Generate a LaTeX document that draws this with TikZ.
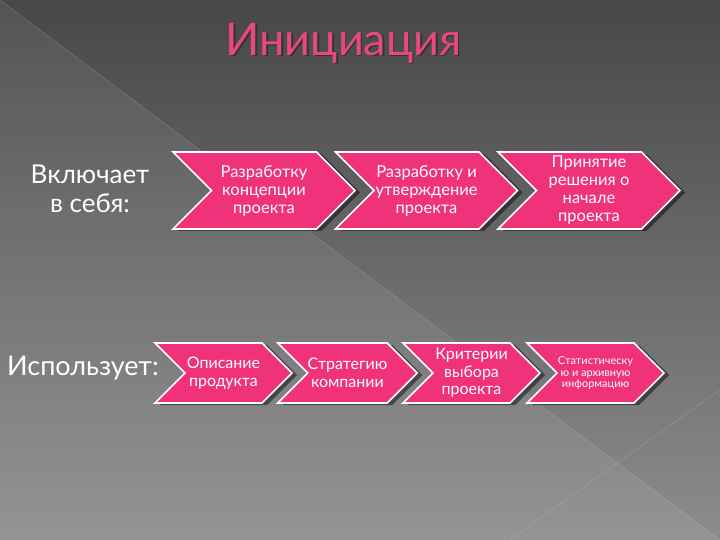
\documentclass[tikz,border=0pt]{standalone}
\usepackage{fontspec}
\setmainfont{Lato}
\usetikzlibrary{shapes.symbols,shadows}

\definecolor{stagepink}{RGB}{240,50,122}
\definecolor{titlepink}{RGB}{232,72,130}

\tikzset{
  stage/.style={signal, signal to=east, signal from=west, fill=stagepink,
    draw=white, line width=1.6pt, text=white, align=center, inner sep=0pt,
    drop shadow={shadow xshift=5pt, shadow yshift=-2pt, opacity=.45, fill=black}},
  stage top/.style={stage, minimum width=182pt, minimum height=77pt,
    font=\fontsize{16.5}{18}\selectfont},
  stage bottom/.style={stage, minimum width=137pt, minimum height=60pt,
    font=\fontsize{16}{17.5}\selectfont},
  side label/.style={text=white, align=center}
}

\begin{document}
\begin{tikzpicture}[x=1pt,y=-1pt]
        % background
        \shade[top color=black!72,bottom color=black!45] (0,0) rectangle (720,540);
        \useasboundingbox (0,0) rectangle (720,540);
        \fill[white,opacity=.07] (0,0)--(720,540)--(0,540)--cycle;
        \draw[white,opacity=.12,line width=.8pt] (0,0)--(720,540);
        \draw[white,opacity=.12,line width=.8pt] (720,390)--(510,540);

        % title
        \node[text=black!80,font=\fontsize{45}{45}\selectfont] (title shadow) at (345,44.5) {Инициация};
        \node[text=titlepink,font=\fontsize{45}{45}\selectfont] (title) at (343.5,43) {Инициация};

        % left labels
        \node[side label,font=\fontsize{26}{29}\selectfont] (includes) at (90,189) {Включает\\в себя:};
        \node[side label,font=\fontsize{27}{27}\selectfont] (uses) at (83,368) {Использует:};

        % upper row
        \node[stage top] (concept) at (264,190.5) {Разработку\\концепции\\проекта};
        \node[stage top] (approval) at (426.5,190.5) {Разработку и\\утверждение\\проекта};
        \node[stage top] (decision) at (589,190.5) {Принятие\\решения о\\начале\\проекта};

        % lower row
        \node[stage bottom] (product) at (223.5,373) {Описание\\продукта};
        \node[stage bottom] (strategy) at (347.5,373) {Стратегию\\компании};
        \node[stage bottom] (criteria) at (471.5,373) {Критерии\\выбора\\проекта};
        \node[stage bottom,font=\fontsize{11}{11.5}\selectfont] (archive) at (595.5,373) {Статистическу\\ю и архивную\\информацию};
\end{tikzpicture}
\end{document}
